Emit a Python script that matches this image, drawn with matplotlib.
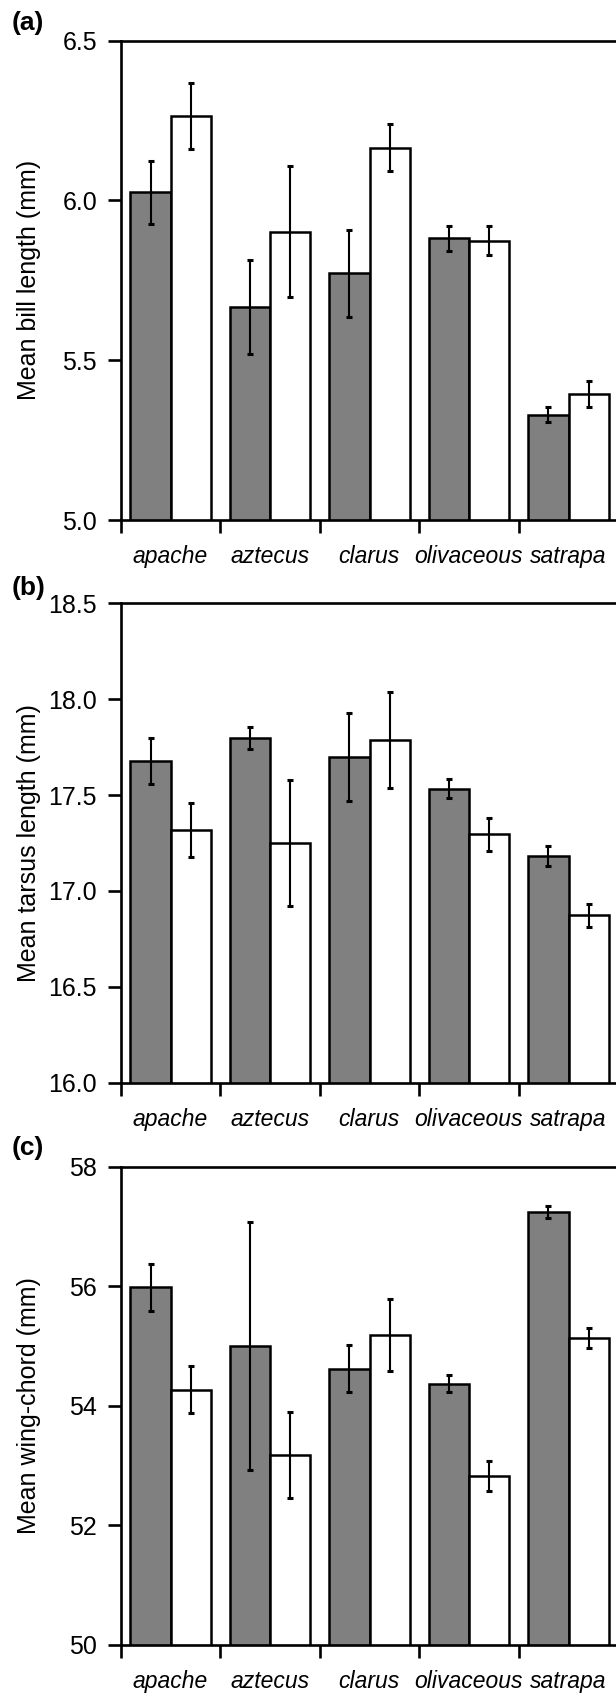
import matplotlib
matplotlib.use("Agg")
import matplotlib.pyplot as plt
import numpy as np

plt.rcParams['font.family'] = ['Liberation Sans', 'DejaVu Sans']

species = ['apache', 'aztecus', 'clarus', 'olivaceous', 'satrapa']

bill_gray = [6.025, 5.668, 5.772, 5.881, 5.330]
bill_gray_err = [0.100, 0.147, 0.137, 0.040, 0.023]
bill_white = [6.264, 5.902, 6.165, 5.874, 5.395]
bill_white_err = [0.103, 0.205, 0.074, 0.046, 0.040]

tarsus_gray = [17.677, 17.797, 17.698, 17.534, 17.184]
tarsus_gray_err = [0.120, 0.057, 0.230, 0.050, 0.052]
tarsus_white = [17.316, 17.249, 17.785, 17.295, 16.874]
tarsus_white_err = [0.140, 0.330, 0.250, 0.085, 0.060]

wing_gray = [55.98, 55.00, 54.62, 54.37, 57.24]
wing_gray_err = [0.39, 2.08, 0.39, 0.145, 0.105]
wing_white = [54.27, 53.18, 55.18, 52.82, 55.14]
wing_white_err = [0.39, 0.72, 0.60, 0.25, 0.165]

bill_ticks = [5.0, 5.5, 6.0, 6.5]
tarsus_ticks = [16.0, 16.5, 17.0, 17.5, 18.0, 18.5]
wing_ticks = [50, 52, 54, 56, 58]

panels = [
    ('(a)', 'Mean bill length (mm)', bill_gray, bill_gray_err, bill_white, bill_white_err, bill_ticks, '%.1f'),
    ('(b)', 'Mean tarsus length (mm)', tarsus_gray, tarsus_gray_err, tarsus_white, tarsus_white_err, tarsus_ticks, '%.1f'),
    ('(c)', 'Mean wing-chord (mm)', wing_gray, wing_gray_err, wing_white, wing_white_err, wing_ticks, '%d'),
]

W, H = 616, 1693
fig = plt.figure(figsize=(W / 100, H / 100), dpi=100)

# axes pixel boxes: (top, bottom)
boxes = [(40.7, 520.0), (603.3, 1082.7), (1166.7, 1645.0)]
label_y = [23, 588, 1148]
left_px, right_px = 120.7, 618.0

x = np.arange(len(species))
bw = 0.405

for (plab, ylab, g, ge, w, we, ticks, fmt), (top, bot), ly in zip(panels, boxes, label_y):
    ax = fig.add_axes([left_px / W, 1 - bot / H, (right_px - left_px) / W, (bot - top) / H])
    ax.bar(x - 0.2, g, width=bw, color='#808080', edgecolor='black', linewidth=1.8, zorder=2)
    ax.bar(x + 0.205, w, width=bw, color='white', edgecolor='black', linewidth=1.8, zorder=2)
    ax.errorbar(x - 0.2, g, yerr=ge, fmt='none', ecolor='black', elinewidth=1.5,
                capsize=2.2, capthick=2.2, zorder=3)
    ax.errorbar(x + 0.205, w, yerr=we, fmt='none', ecolor='black', elinewidth=1.5,
                capsize=2.2, capthick=2.2, zorder=3)
    ax.set_xlim(-0.5, 4.5)
    ax.set_ylim(ticks[0], ticks[-1])
    ax.set_yticks(ticks)
    ax.set_yticklabels([fmt % t for t in ticks])
    ax.set_xticks(np.arange(-0.5, 4.6, 1.0))
    ax.set_xticklabels([])
    ax.set_xticks(x, minor=True)
    ax.set_xticklabels(species, minor=True, style='italic', fontsize=16.5)
    ax.tick_params(axis='x', which='minor', length=0, pad=18)
    ax.tick_params(axis='both', which='major', direction='out', length=9.5, width=1.9,
                   labelsize=18)
    ax.tick_params(axis='y', which='major', pad=7.5)
    for s in ['left', 'top', 'bottom']:
        ax.spines[s].set_linewidth(1.9)
    ax.spines['right'].set_visible(False)
    fig.text(29 / W, 1 - ((top + bot) / 2) / H, ylab, rotation=90, ha='center', va='center',
             fontsize=18)
    fig.text(12 / W, 1 - ly / H, plab, fontweight='bold', ha='left', va='center', fontsize=19)

fig.savefig('out.png', dpi=100)
